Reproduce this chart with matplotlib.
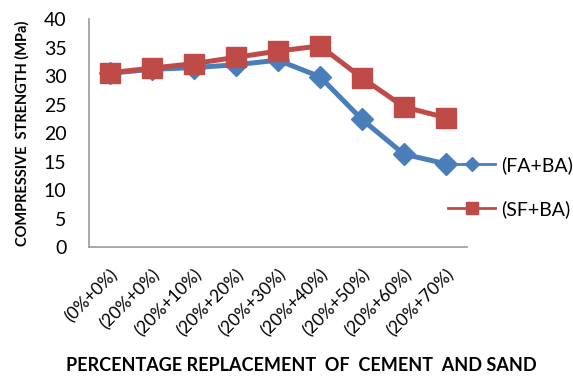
import matplotlib.pyplot as plt
from matplotlib.lines import Line2D

plt.rcParams['font.family'] = ['Lato', 'DejaVu Sans']

categories = ['(0%+0%)', '(20%+0%)', '(20%+10%)', '(20%+20%)', '(20%+30%)',
              '(20%+40%)', '(20%+50%)', '(20%+60%)', '(20%+70%)']
fa_ba = [30.5, 31.2, 31.5, 32.0, 32.8, 29.9, 22.4, 16.3, 14.6]
sf_ba = [30.6, 31.4, 32.2, 33.3, 34.4, 35.3, 29.7, 24.6, 22.7]

blue = '#4a7ebb'
red = '#be4b48'

fig = plt.figure(figsize=(5.73, 3.76), dpi=100)
ax = fig.add_axes([0.155, 0.343, 0.66, 0.606])

x = range(len(categories))
ax.plot(x, fa_ba, color=blue, lw=3.6, marker='D', ms=11, zorder=2)
ax.plot(x, sf_ba, color=red, lw=3.6, marker='s', ms=14, zorder=3)

ax.set_xlim(-0.5, len(categories) - 0.5)
ax.set_ylim(0, 40)
ax.set_yticks(range(0, 41, 5))
ax.set_xticks(list(x))
ax.set_xticklabels(categories, rotation=45, ha='right', rotation_mode='anchor', fontsize=12.5)
ax.tick_params(axis='y', labelsize=14, length=0, pad=16)
ax.tick_params(axis='x', length=0, pad=14)

for s in ['top', 'right']:
    ax.spines[s].set_visible(False)
for s in ['left', 'bottom']:
    ax.spines[s].set_color('#999999')
    ax.spines[s].set_linewidth(1.2)

ax.set_ylabel('COMPRESSIVE  STRENGTH (MPa)', fontsize=10.5, fontweight='bold', labelpad=10)
fig.text(0.525, 0.029, 'PERCENTAGE REPLACEMENT  OF  CEMENT  AND SAND',
         ha='center', va='center', fontsize=13, fontweight='bold')

handles = [Line2D([], [], color=blue, lw=2, marker='D', ms=7),
           Line2D([], [], color=red, lw=2, marker='s', ms=8)]
fig.legend(handles, ['(FA+BA)', '(SF+BA)'], loc='center left',
           bbox_to_anchor=(0.752, 0.503), frameon=False, fontsize=14,
           handlelength=2.4, labelspacing=1.35, handletextpad=0.3)

fig.savefig('out.png', dpi=100)
